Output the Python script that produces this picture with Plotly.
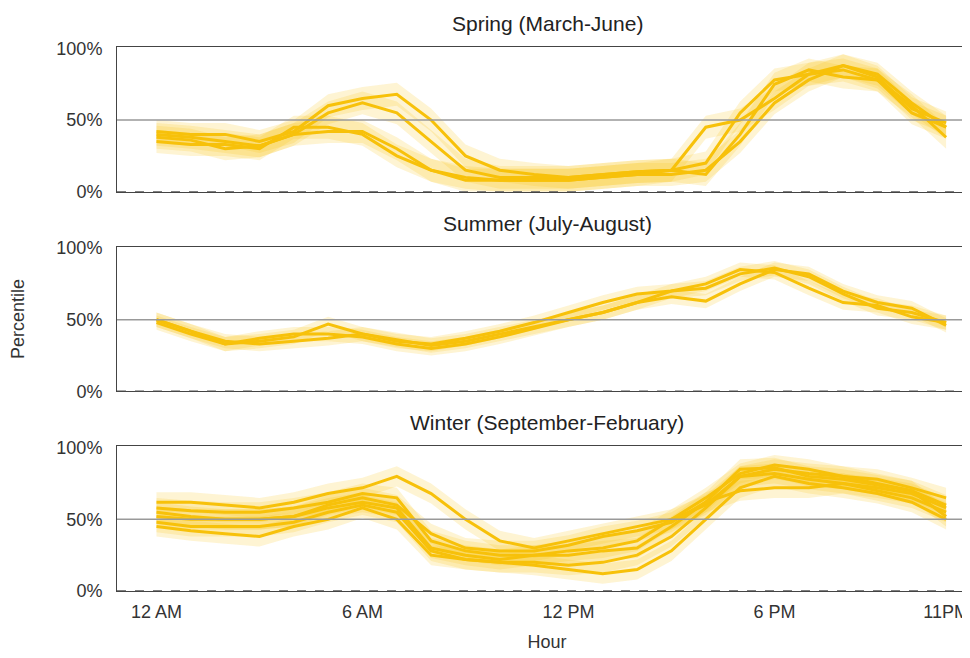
import plotly.graph_objects as go
from plotly.subplots import make_subplots

hours = list(range(24))
tick_vals = [0, 6, 12, 18, 23]
tick_text = ["12 AM", "6 AM", "12 PM", "6 PM", "11PM"]
titles = ["Spring (March-June)", "Summer (July-August)", "Winter (September-February)"]

spring = [
    [42,40,40,35,42,60,65,68,50,25,15,12,10,12,14,15,45,50,65,82,88,82,62,45],
    [38,36,30,32,40,55,62,55,35,15,10,10,10,12,14,15,20,55,78,82,85,78,60,38],
    [35,33,33,30,45,45,40,25,15,10,8,8,8,10,12,15,12,40,75,85,80,78,55,45],
    [40,38,35,32,40,42,42,30,15,8,8,8,8,10,12,12,15,35,62,78,88,80,58,48],
]
summer = [
    [50,42,33,35,38,47,40,35,33,37,42,48,55,62,68,70,75,85,83,72,62,60,52,48],
    [50,42,35,33,35,37,40,36,32,35,40,45,50,55,62,70,72,82,86,80,68,58,55,48],
    [48,40,33,37,40,40,38,33,30,33,38,44,50,55,62,66,63,75,85,82,70,62,58,46],
]
winter = [
    [62,62,60,58,62,68,72,80,68,50,35,30,35,40,45,50,60,80,85,82,80,78,72,65],
    [58,56,55,55,58,62,68,65,35,28,25,25,28,30,35,50,65,82,88,85,80,75,70,60],
    [52,50,50,50,52,58,62,58,30,25,22,25,25,28,30,45,62,85,86,80,78,74,70,52],
    [48,45,45,45,48,55,60,55,28,22,20,20,18,20,25,38,58,80,82,78,75,70,65,55],
    [45,42,40,38,45,50,58,50,25,22,20,18,15,12,15,28,50,72,80,75,72,68,62,50],
    [55,52,50,50,52,60,65,60,40,30,28,28,32,38,42,48,62,70,72,72,75,72,68,58],
]
band_halfwidth = [8, 5, 7]  # percentile points per panel

GOLD = "#F7C10A"
BAND = "rgba(247,193,10,0.18)"

fig = make_subplots(rows=3, cols=1, shared_xaxes=False, vertical_spacing=0.101,
                    subplot_titles=titles)

for r, (series, hw) in enumerate(zip([spring, summer, winter], band_halfwidth), start=1):
    for s in series:
        up = [min(100, v + hw) / 100 for v in s]
        lo = [max(0, v - hw) / 100 for v in s]
        fig.add_trace(go.Scatter(x=hours + hours[::-1], y=up + lo[::-1], fill="toself",
                                 fillcolor=BAND, line=dict(width=0), hoverinfo="skip",
                                 showlegend=False), row=r, col=1)
    for s in series:
        fig.add_trace(go.Scatter(x=hours, y=[v / 100 for v in s], mode="lines",
                                 line=dict(color=GOLD, width=3), showlegend=False),
                      row=r, col=1)
    fig.add_hline(y=0.5, line=dict(color="#999", width=1.5), row=r, col=1)
    fig.add_hline(y=0, line=dict(color="#555", width=1.5, dash="dash"), row=r, col=1)
    fig.update_xaxes(range=[-1.15, 23.9], tickvals=tick_vals,
                     ticktext=tick_text if r == 3 else None,
                     showticklabels=(r == 3), showgrid=False, zeroline=False,
                     showline=True, mirror=True, linecolor="#444", linewidth=1,
                     ticklabelstandoff=4,
                     tickfont=dict(size=18, color="#333"), row=r, col=1)
    fig.update_yaxes(range=[0, 1.01], tickvals=[0, 0.5, 1], tickformat=".0%",
                     showgrid=False, zeroline=False, showline=True, mirror=True,
                     linecolor="#444", linewidth=1, ticklabelstandoff=10,
                     tickfont=dict(size=18, color="#333"), row=r, col=1)

fig.update_xaxes(title_text="Hour", title_font=dict(size=18, color="#333"),
                 title_standoff=14, row=3, col=1)
fig.update_yaxes(title_text="Percentile", title_font=dict(size=18, color="#333"),
                 title_standoff=28, row=2, col=1)
for a in fig.layout.annotations:
    a.font = dict(size=21, color="#222")
    a.yshift = 10

fig.update_layout(width=970, height=658, plot_bgcolor="white", paper_bgcolor="white",
                  margin=dict(l=109, r=1, t=39, b=75, autoexpand=False),
                  font=dict(family="Liberation Sans, Arial, sans-serif"))
fig.write_html("out.html")
